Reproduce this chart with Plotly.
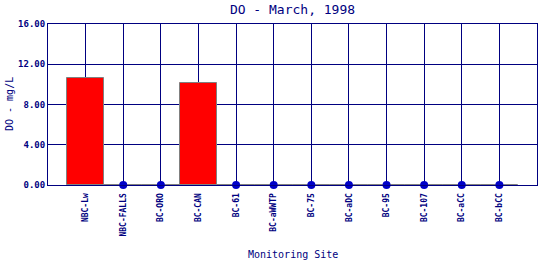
import plotly.graph_objects as go

sites = ["NBC-Lw", "NBC-FALLS", "BC-ORO", "BC-CAN", "BC-61", "BC-aWWTP",
         "BC-75", "BC-aDC", "BC-95", "BC-107", "BC-aCC", "BC-bCC"]
do_values = [10.6, 0, 0, 10.1, 0, 0, 0, 0, 0, 0, 0, 0]
y_ticks = [0, 4, 8, 12, 16]
y_tick_text = ["0.00", "4.00", "8.00", "12.00", "16.00"]

NAVY = "#000080"
FONT = "DejaVu Sans Mono"

idx = list(range(len(sites)))
fig = go.Figure()
fig.add_trace(go.Bar(
    x=idx, y=do_values, width=1.0,
    marker=dict(color="#FF0000", line=dict(color="#808080", width=1)),
    showlegend=False, hoverinfo="skip"))
zi = [i for i, v in zip(idx, do_values) if v == 0]
zv = [v for v in do_values if v == 0]
fig.add_trace(go.Scatter(
    x=zi, y=zv, mode="markers",
    marker=dict(color="#0000C8", size=8, line=dict(width=0)),
    showlegend=False, hoverinfo="skip", cliponaxis=False))

fig.update_layout(
    width=540, height=260,
    margin=dict(l=48, r=3, t=24, b=75),
    paper_bgcolor="white", plot_bgcolor="white",
    font=dict(family=FONT, color=NAVY),
    title=dict(text="DO - March, 1998", x=0.5, xref="paper", y=1 - 9.5 / 260,
               yref="container", yanchor="middle", xanchor="center",
               font=dict(family=FONT, size=13, color=NAVY)),
    xaxis=dict(range=[-1, 12], tickmode="array", tickvals=idx, ticktext=sites,
               tickangle=-90, tickfont=dict(family=FONT, size=8, color=NAVY, weight="bold"),
               ticklabelstandoff=4,
               showgrid=True, gridcolor=NAVY, gridwidth=1,
               showline=True, linecolor=NAVY, linewidth=1, mirror=True,
               ticks="", zeroline=False, fixedrange=True),
    yaxis=dict(range=[0, 16], tickmode="array", tickvals=y_ticks, ticktext=y_tick_text,
               tickfont=dict(family=FONT, size=9, color=NAVY, weight="bold"),
               showgrid=True, gridcolor=NAVY, gridwidth=1,
               showline=True, linecolor=NAVY, linewidth=1, mirror=True,
               ticks="", zeroline=False, fixedrange=True),
    annotations=[
        dict(text="Monitoring Site", x=0.5, xref="paper", y=-(254 - 185) / 161,
             yref="paper", xanchor="center", yanchor="middle", showarrow=False,
             font=dict(family=FONT, size=10, color=NAVY)),
        dict(text="DO - mg/L", x=-(48 - 9.5) / 489, xref="paper", y=0.5, yref="paper",
             xanchor="center", yanchor="middle", textangle=-90, showarrow=False,
             font=dict(family=FONT, size=10, color=NAVY)),
    ],
    bargap=0,
)
fig.write_html("out.html")
